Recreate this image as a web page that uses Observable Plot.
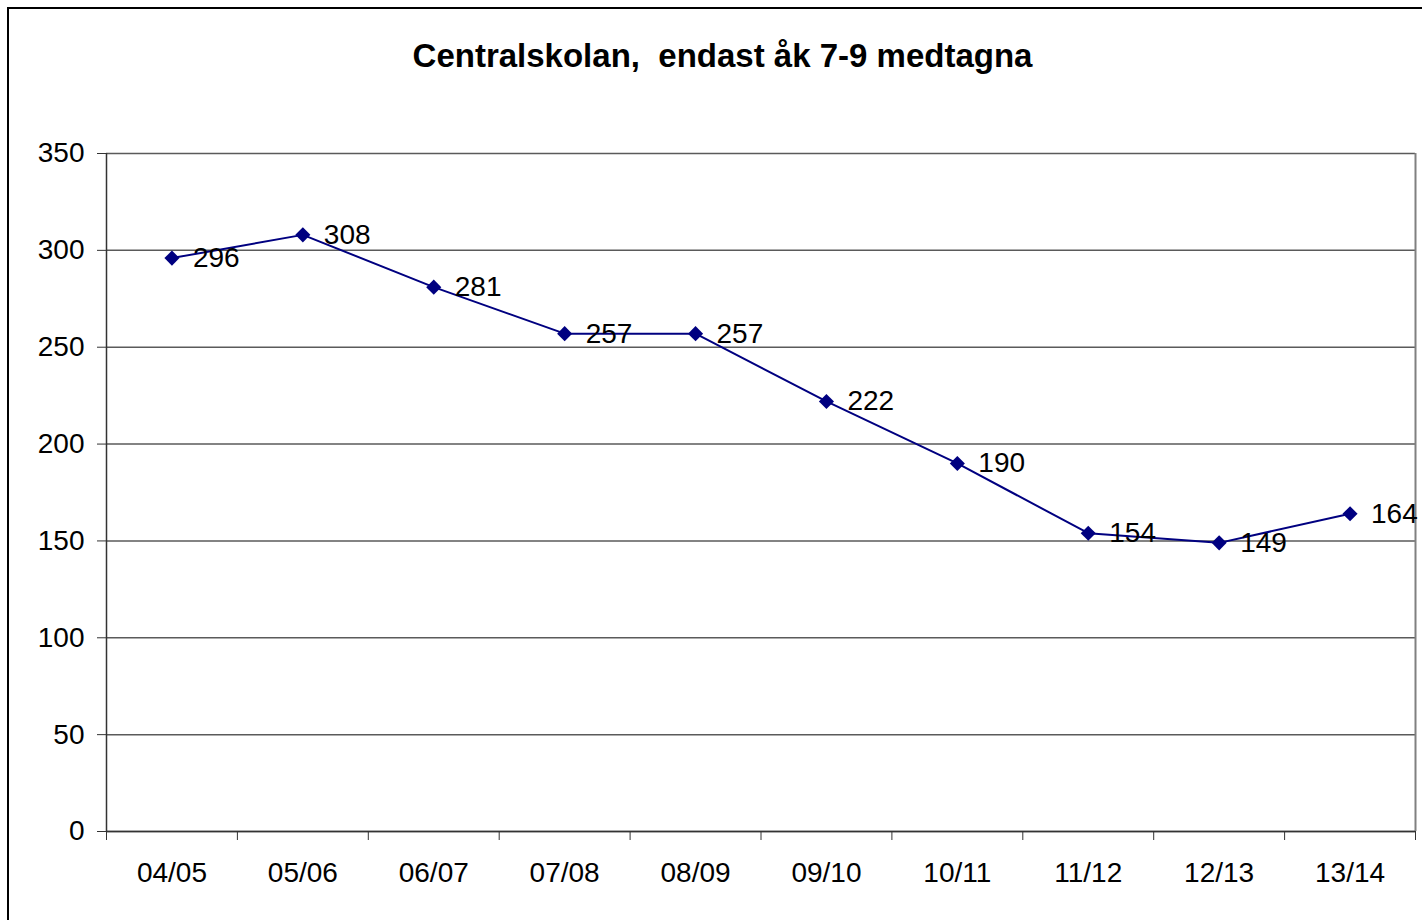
<!DOCTYPE html>
<html><head><meta charset="utf-8">
<script src="https://cdn.jsdelivr.net/npm/d3@7"></script>
<script src="https://cdn.jsdelivr.net/npm/@observablehq/plot@0.6"></script>
<style>
html,body{margin:0;padding:0;background:#fff;overflow:hidden;width:1422px;height:920px;}
#frame{position:absolute;left:7px;top:7px;width:1500px;height:1000px;border:2px solid #000;box-sizing:border-box;}
#title{position:absolute;left:0;top:36px;width:1445px;text-align:center;font:bold 33px "Liberation Sans",Arial,sans-serif;white-space:pre;line-height:40px;color:#000;}
#chart{position:absolute;left:0;top:120px;}
</style></head><body>
<div id="frame"></div>
<div id="title">Centralskolan,  endast åk 7-9 medtagna</div>
<div id="chart"></div>
<script>
const categories = ["04/05","05/06","06/07","07/08","08/09","09/10","10/11","11/12","12/13","13/14"];
const values = [296, 308, 281, 257, 257, 222, 190, 154, 149, 164];
const yTicks = [0, 50, 100, 150, 200, 250, 300, 350];

const data = categories.map((c, i) => ({category: c, pos: i + 0.5, value: values[i]}));
const font = '"Liberation Sans", Arial, sans-serif';

const chart = Plot.plot({
  width: 1422, height: 800,
  marginLeft: 106, marginRight: 7, marginTop: 33, marginBottom: 89,
  style: {fontFamily: font, fontSize: "28px", color: "#000", background: "transparent", overflow: "visible"},
  x: {domain: [0, categories.length]},
  y: {domain: [0, 350]},
  marks: [
    Plot.gridY(yTicks, {stroke: "#5a5a5a", strokeOpacity: 1, strokeWidth: 1.5}),
    Plot.ruleX([categories.length], {stroke: "#808080", strokeWidth: 2}),
    Plot.axisY(yTicks, {tickSize: 9, tickPadding: 13, tickFormat: d => String(d), label: null, stroke: "#333", fontSize: 28, fill: "#000"}),
    Plot.ruleX([0], {stroke: "#333", strokeWidth: 1.5}),
    Plot.ruleY([0], {stroke: "#333", strokeWidth: 1.5}),
    Plot.axisX(d3.range(categories.length + 1), {tickSize: 9, tickFormat: () => "", label: null, stroke: "#333"}),
    Plot.axisX(data.map(d => d.pos), {tickSize: 0, tickPadding: 31, tickFormat: d => categories[Math.floor(d)], label: null, fontSize: 28, fill: "#000"}),
    Plot.line(data, {x: "pos", y: "value", stroke: "#000080", strokeWidth: 2}),
    Plot.dot(data, {x: "pos", y: "value", symbol: "diamond2", r: 6.8, fill: "#000080", stroke: "none"}),
    Plot.text(data, {x: "pos", y: "value", text: d => String(d.value), textAnchor: "start", dx: 21, fill: "#000", fontSize: 28})
  ]
});
document.getElementById("chart").appendChild(chart);
</script>
</body></html>
